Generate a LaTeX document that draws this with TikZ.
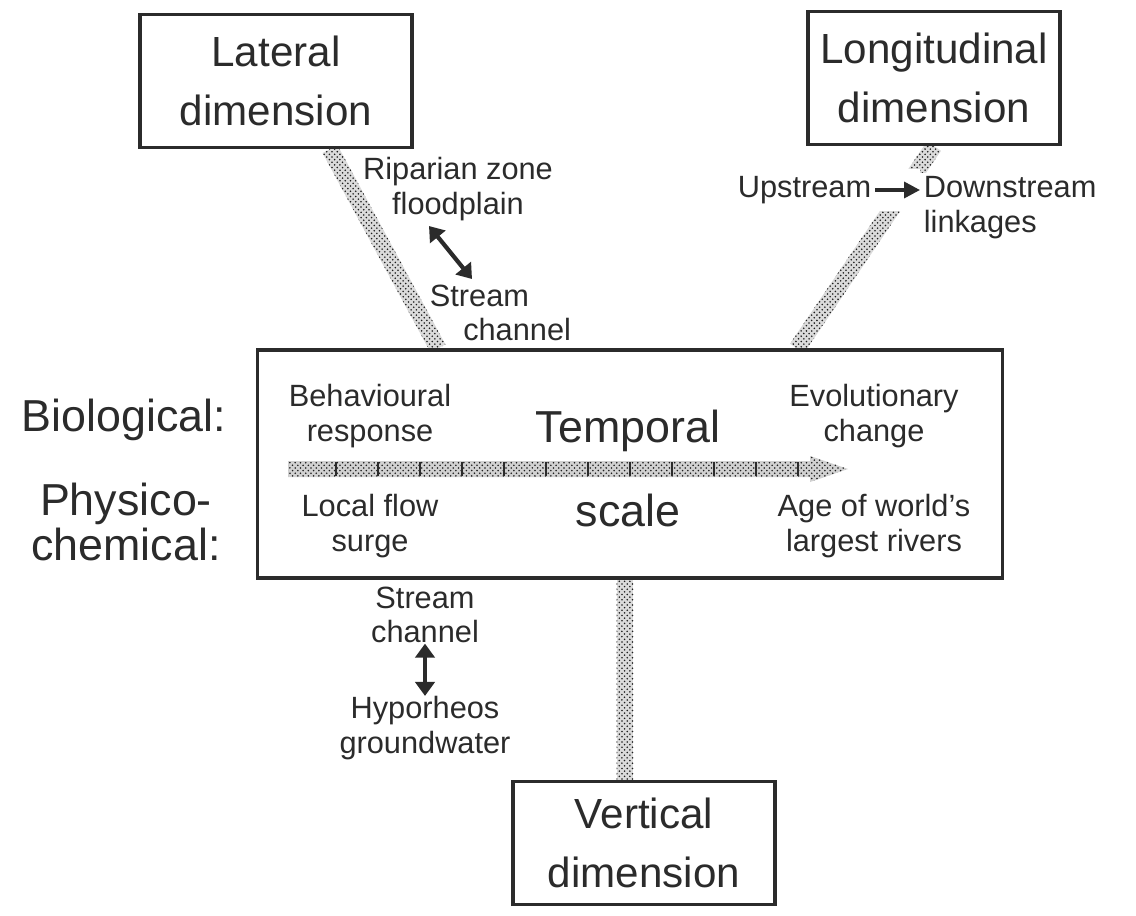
\documentclass[tikz,border=0pt]{standalone}
\usepackage{fontspec}
\setmainfont{Liberation Sans}
\usepackage{tikz}
\usetikzlibrary{calc,arrows.meta,patterns,backgrounds}
\definecolor{PInk}{HTML}{2b2b2b}
\definecolor{PDots}{HTML}{1e1e1e}
\newcommand{\band}[2]{\fill[band] ($(#1)!4.8pt!90:(#2)$) -- ($(#1)!4.8pt!-90:(#2)$) -- ($(#2)!4.8pt!90:(#1)$) -- ($(#2)!4.8pt!-90:(#1)$) -- cycle;}
\tikzset{
  dimbox/.style={draw=PInk, line width=1.8pt, fill=white, align=center, text=PInk,
    font=\fontsize{24}{34}\selectfont},
  biglbl/.style={text=PInk, align=center, font=\fontsize{25.5}{26}\selectfont},
  lbl/.style={text=PInk, align=center, inner sep=2pt, font=\fontsize{17.5}{19.8}\selectfont},
  band/.style={preaction={fill=black!14}, pattern=crosshatch dots, pattern color=PDots},
  scalebar/.style={preaction={fill=black!18}, pattern=crosshatch dots, pattern color=PDots},
  tick/.style={draw=PInk, line width=1.4pt},
  dblarrow/.style={draw=PInk, line width=2.4pt, {Triangle[length=8pt,width=11pt]}-{Triangle[length=8pt,width=11pt]}},
  onearrow/.style={draw=PInk, line width=2pt, -{Triangle[length=9pt,width=9pt]}}
}

\begin{document}
\begin{tikzpicture}[x=0.02cm, y=-0.02cm]
        \useasboundingbox (0,0) rectangle (1136,916);
        % the four boxes
        \node[dimbox, minimum width=5.44cm, minimum height=2.66cm] (lat) at (276,81) {Lateral\\dimension};
        \node[dimbox, minimum width=5.04cm, minimum height=2.66cm] (long) at (934,78) {Longitudinal\\dimension};
        \node[dimbox, minimum width=14.9cm, minimum height=4.56cm] (main) at (630,464) {};
        \node[dimbox, minimum width=5.24cm, minimum height=2.46cm] (vert) at (644,843) {Vertical\\dimension};

        \coordinate (lbx) at (330,0);
        \coordinate (lx) at (438,0);
        \coordinate (rx) at (797,0);
        \coordinate (vx) at (625,0);
        \begin{scope}[on background layer]
            \band{lat.south -| lbx}{main.north -| lx}
            \band{long.south}{main.north -| rx}
            \band{main.south -| vx}{vert.north -| vx}
        \end{scope}

        % temporal scale arrow
        \fill[scalebar] (288,461) -- (810,461) -- (810,456) -- (848,469) -- (810,482) -- (810,477) -- (288,477) -- cycle;
        \foreach \t in {0,...,11}
        {
            \draw[tick] (336+42*\t,462) -- (336+42*\t,476);
        }
        \node[lbl] (beh) at (370,416) {Behavioural\\response};
        \node[biglbl] (temp) at (628,431) {Temporal};
        \node[lbl] (evo) at (874,416) {Evolutionary\\change};
        \node[lbl] (loc) at (370,526) {Local flow\\surge};
        \node[biglbl] (scl) at (628,510) {scale};
        \node[lbl] (age) at (874,526) {Age of world’s\\largest rivers};

        \node[biglbl] (bio) at (124,420) {Biological:};
        \node[biglbl] (phys) at (126,522) {Physico-\\chemical:};

        % lateral
        \node[lbl] (rip) at (458,189) {Riparian zone\\floodplain};
        \node[lbl, align=left, anchor=west] (strm) at (426,313) {Stream\\\hspace*{19pt}channel};
        \coordinate (ra) at (429,226);
        \coordinate (rb) at (472,279);
        \draw[dblarrow] (ra) -- (rb);

        % longitudinal
        \node[lbl, fill=white, anchor=east] (up) at (875,190) {Upstream};
        \node[lbl, fill=white, align=left, anchor=west] (down) at (920,208) {Downstream\\linkages};
        \draw[onearrow, preaction={draw=white, line width=24pt, -}] (up.east) -- (up.east -| down.west);

        % vertical
        \node[lbl] (sc2) at (425,615) {Stream\\channel};
        \node[lbl] (hyp) at (425,728) {Hyporheos\\groundwater};
        \draw[dblarrow, shorten <=-2pt, shorten >=-2pt] (sc2) -- (hyp);
\end{tikzpicture}
\end{document}
